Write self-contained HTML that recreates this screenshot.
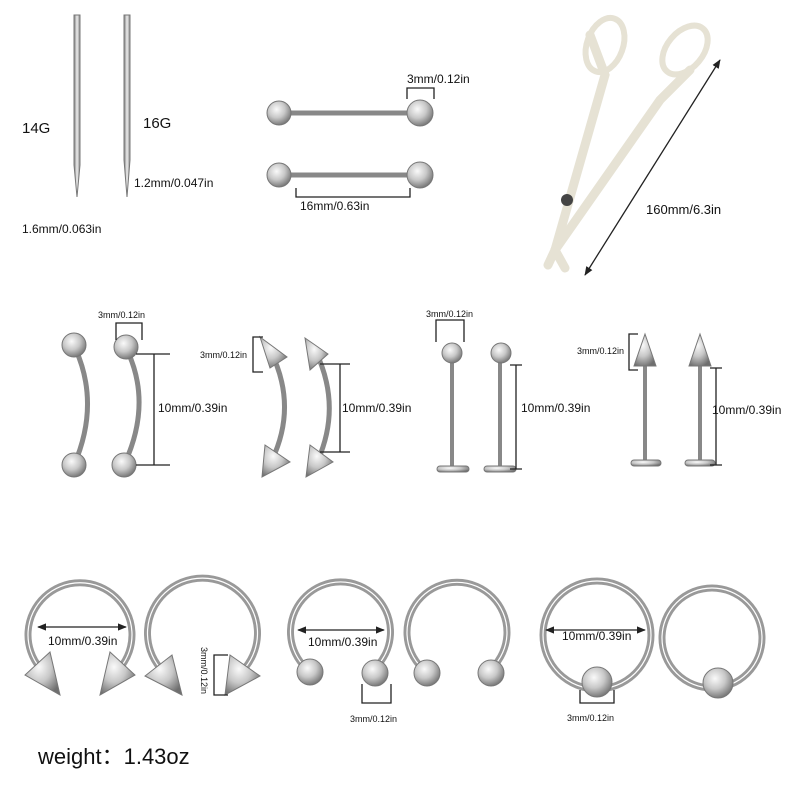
<!DOCTYPE html>
<html><head><style>body{margin:0;background:#fff}svg{display:block}text{font-family:"Liberation Sans",sans-serif;fill:#111}</style></head><body>
<svg width="800" height="800" viewBox="0 0 800 800">
<defs>
<radialGradient id="b" cx="40%" cy="35%" r="70%"><stop offset="0" stop-color="#fafafa"/><stop offset="0.5" stop-color="#c8c8c8"/><stop offset="1" stop-color="#6e6e6e"/></radialGradient>
<linearGradient id="c" x1="0" x2="1"><stop offset="0" stop-color="#777"/><stop offset="0.5" stop-color="#eee"/><stop offset="1" stop-color="#888"/></linearGradient>
<marker id="a" viewBox="0 0 10 10" refX="9" refY="5" markerWidth="7" markerHeight="7" orient="auto-start-reverse"><path d="M0 1L10 5L0 9Z" fill="#222"/></marker>
</defs>
<g stroke="#888" fill="none">
<path d="M74 15V165L77 197L80 165V15Z" fill="url(#c)" stroke="#777"/>
<path d="M124 15V160L127 197L130 160V15Z" fill="url(#c)" stroke="#777"/>
<line x1="280" y1="113" x2="420" y2="113" stroke-width="5"/>
<line x1="280" y1="175" x2="420" y2="175" stroke-width="5"/>
</g>
<g fill="url(#b)" stroke="#777">
<circle cx="279" cy="113" r="12"/><circle cx="420" cy="113" r="13"/>
<circle cx="279" cy="175" r="12"/><circle cx="420" cy="175" r="13"/>
</g>
<g stroke="#222" fill="none" stroke-width="1.3">
<path d="M407 99V88H434V99"/><path d="M296 188V197H410V188"/>
<line x1="720" y1="60" x2="585" y2="275" marker-start="url(#a)" marker-end="url(#a)"/>
</g>
<g stroke="#e6e2d4" fill="none" stroke-width="9" stroke-linecap="round">
<path d="M590 35L605 75L555 250"/><path d="M690 70L660 100L555 250"/>
<path d="M555 250L548 265"/><path d="M555 250L565 268"/>
</g>
<g stroke="#e6e2d4" fill="none" stroke-width="6">
<ellipse cx="605" cy="45" rx="18" ry="28" transform="rotate(20 605 45)"/>
<ellipse cx="685" cy="50" rx="18" ry="28" transform="rotate(40 685 50)"/>
</g>
<circle cx="567" cy="200" r="6" fill="#444"/>
<text x="22" y="133" font-size="15">14G</text><text x="143" y="128" font-size="15">16G</text>
<text x="22" y="233" font-size="12">1.6mm/0.063in</text><text x="134" y="187" font-size="12">1.2mm/0.047in</text>
<text x="407" y="83" font-size="12">3mm/0.12in</text><text x="300" y="210" font-size="12">16mm/0.63in</text>
<text x="646" y="214" font-size="13">160mm/6.3in</text>
<g stroke="#888" fill="none" stroke-width="5">
<path d="M76 350Q100 405 74 465"/><path d="M128 352Q152 405 124 465"/>
<path d="M270 350Q298 405 272 460"/><path d="M315 350Q342 405 318 460"/>
<line x1="452" y1="360" x2="452" y2="468" stroke-width="4"/><line x1="500" y1="360" x2="500" y2="468" stroke-width="4"/>
<line x1="645" y1="360" x2="645" y2="462" stroke-width="4"/><line x1="700" y1="360" x2="700" y2="462" stroke-width="4"/>
</g>
<g fill="url(#b)" stroke="#777">
<circle cx="74" cy="345" r="12"/><circle cx="126" cy="347" r="12"/><circle cx="74" cy="465" r="12"/><circle cx="124" cy="465" r="12"/>
<circle cx="452" cy="353" r="10"/><circle cx="501" cy="353" r="10"/>
<path d="M260 337L287 357L270 368Z"/><path d="M305 338L328 354L310 370Z"/>
<path d="M265 445L262 477L290 462Z"/><path d="M310 445L306 477L333 462Z"/>
<path d="M645 334L634 366H656Z"/><path d="M700 334L689 366H711Z"/>
<rect x="437" y="466" width="32" height="6" rx="3"/><rect x="484" y="466" width="32" height="6" rx="3"/>
<rect x="631" y="460" width="30" height="6" rx="3"/><rect x="685" y="460" width="30" height="6" rx="3"/>
</g>
<g stroke="#222" fill="none" stroke-width="1.3">
<path d="M116 340V323H142V340"/><path d="M136 354H170M154 354V465M136 465H170"/>
<path d="M263 337H253V372H263"/><path d="M320 364H350M340 364V452M320 452H350"/>
<path d="M436 342V320H464V342"/><path d="M510 365H522M516 365V469M510 469H522"/>
<path d="M638 334H629V370H638"/><path d="M710 368H722M716 368V465M710 465H722"/>
</g>
<g font-size="9"><text x="98" y="318">3mm/0.12in</text><text x="200" y="358">3mm/0.12in</text><text x="426" y="317">3mm/0.12in</text><text x="577" y="354">3mm/0.12in</text></g>
<g font-size="12"><text x="158" y="412">10mm/0.39in</text><text x="342" y="412">10mm/0.39in</text><text x="521" y="412">10mm/0.39in</text><text x="712" y="414">10mm/0.39in</text></g>
<g stroke="#999" fill="none" stroke-width="7">
<path d="M40 668A52 52 0 1 1 120 668"/><path d="M160 668A55 55 0 1 1 245 668"/>
<path d="M303 665A50 50 0 1 1 378 665"/><path d="M422 668A50 50 0 1 1 492 668"/>
<circle cx="597" cy="635" r="54"/><circle cx="712" cy="638" r="50"/>
</g>
<g stroke="#fff" fill="none" stroke-width="1.2">
<path d="M40 668A52 52 0 1 1 120 668"/><path d="M160 668A55 55 0 1 1 245 668"/>
<path d="M303 665A50 50 0 1 1 378 665"/><path d="M422 668A50 50 0 1 1 492 668"/>
<circle cx="597" cy="635" r="54"/><circle cx="712" cy="638" r="50"/>
</g>
<g fill="url(#b)" stroke="#777">
<path d="M50 652L25 675L60 695Z"/><path d="M110 652L135 675L100 695Z"/>
<path d="M172 655L145 676L182 695Z"/><path d="M230 655L260 676L225 695Z"/>
<circle cx="310" cy="672" r="13"/><circle cx="375" cy="673" r="13"/>
<circle cx="427" cy="673" r="13"/><circle cx="491" cy="673" r="13"/>
<circle cx="597" cy="682" r="15"/><circle cx="718" cy="683" r="15"/>
</g>
<g stroke="#222" fill="none" stroke-width="1.3">
<path d="M38 627H126" marker-start="url(#a)" marker-end="url(#a)"/><path d="M298 630H384" marker-start="url(#a)" marker-end="url(#a)"/><path d="M546 630H645" marker-start="url(#a)" marker-end="url(#a)"/>
<path d="M228 655H214V695H228"/><path d="M362 684V703H391V684"/><path d="M580 690V703H614V690"/>
</g>
<g font-size="12"><text x="48" y="645">10mm/0.39in</text><text x="308" y="646">10mm/0.39in</text><text x="562" y="640">10mm/0.39in</text></g>
<g font-size="9"><text x="350" y="722">3mm/0.12in</text><text x="567" y="721">3mm/0.12in</text>
<text transform="translate(201,647) rotate(90)">3mm/0.12in</text></g>
<text x="38" y="764" font-size="22">weight：1.43oz</text>
</svg>
</body></html>
